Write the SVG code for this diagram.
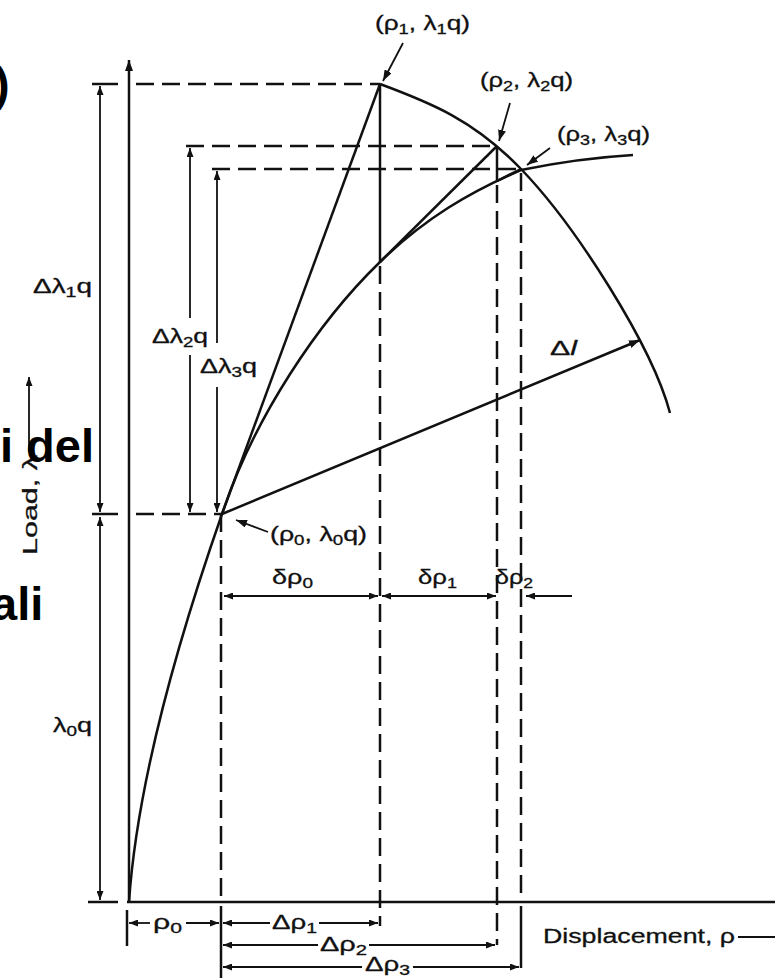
<svg xmlns="http://www.w3.org/2000/svg" width="775" height="978" viewBox="0 0 775 978">
<defs>
<marker id="ah" markerUnits="userSpaceOnUse" markerWidth="9" markerHeight="7" refX="9" refY="3.5" orient="auto-start-reverse"><path d="M0,0 L9,3.5 L0,7 z" fill="#111"/></marker>
<marker id="ptr" markerUnits="userSpaceOnUse" markerWidth="11" markerHeight="8" refX="11" refY="4" orient="auto"><path d="M0,0 L11,4 L0,8 z" fill="#111"/></marker>
</defs>
<style>
.ln{stroke:#111;stroke-width:2.5;fill:none}
.dash{stroke:#111;stroke-width:2.5;stroke-dasharray:18 8;fill:none}
.dim{stroke:#111;stroke-width:1.8;fill:none}
.t{font-family:"Liberation Sans",Arial,sans-serif;font-size:20px;fill:#111;stroke:#111;stroke-width:0.3}
.sub{font-size:14px}
.big{font-family:"Liberation Sans",Arial,sans-serif;font-size:47px;font-weight:bold;fill:#000}
</style>
<rect width="775" height="978" fill="#fff"/>
<g id="axes">
<line class="ln" x1="129" y1="902" x2="129" y2="60" marker-end="url(#ptr)"/>
<line class="ln" x1="127" y1="902" x2="775" y2="902"/>
</g>
<g id="curve">
<path class="ln" d="M129,902 C138,770 185,620 222,514 C254,418 318,322 380,262 C425,218 470,192 521,170 C560,162 600,157 633,155"/>
</g>
<g id="arc">
<path class="ln" d="M380,84 C430,102.5 474,120 521,169 C575,225 652,345 670,413"/>
</g>
<g id="connectors">
<line class="ln" x1="222" y1="514" x2="380" y2="84"/>
<line class="ln" x1="380" y1="84" x2="380" y2="262"/>
<line class="ln" x1="380" y1="262" x2="497" y2="146"/>
<line class="ln" x1="497" y1="146" x2="497" y2="181"/>
<line class="ln" x1="497" y1="181" x2="521" y2="169"/>
<line class="ln" x1="222" y1="514" x2="640" y2="340" marker-end="url(#ptr)"/>
<line class="dash" x1="136" y1="84" x2="380" y2="84"/>
<line class="dash" x1="186" y1="146" x2="497" y2="146"/>
<line class="dash" x1="212" y1="169" x2="521" y2="169"/>
<line class="dash" x1="136" y1="514" x2="222" y2="514"/>
<line class="dash" x1="221" y1="514" x2="221" y2="902"/>
<line class="ln" x1="221" y1="906" x2="221" y2="978"/>
<line class="dash" x1="380" y1="266" x2="380" y2="926"/>
<line class="dash" x1="497" y1="185" x2="497" y2="945"/>
<line class="dash" x1="521" y1="173" x2="521" y2="902"/>
<line class="ln" x1="521" y1="906" x2="521" y2="968"/>
<line class="ln" x1="127" y1="910" x2="127" y2="946"/>
<line class="ln" x1="92" y1="84" x2="118" y2="84"/>
<line class="ln" x1="92" y1="514" x2="118" y2="514"/>
<line class="ln" x1="88" y1="902" x2="118" y2="902"/>
<line class="dim" x1="100" y1="86" x2="100" y2="512" marker-start="url(#ah)" marker-end="url(#ah)"/>
<line class="dim" x1="100" y1="517" x2="100" y2="900" marker-start="url(#ah)" marker-end="url(#ah)"/>
<line class="dim" x1="190" y1="148" x2="190" y2="318" marker-start="url(#ah)"/>
<line class="dim" x1="190" y1="355" x2="190" y2="512" marker-end="url(#ah)"/>
<line class="dim" x1="217" y1="171" x2="217" y2="343" marker-start="url(#ah)"/>
<line class="dim" x1="217" y1="387" x2="217" y2="512" marker-end="url(#ah)"/>
<line class="dim" x1="29" y1="452" x2="29" y2="377" marker-end="url(#ah)"/>
<line class="dim" x1="224" y1="596" x2="378" y2="596" marker-start="url(#ah)" marker-end="url(#ah)"/>
<line class="dim" x1="382" y1="596" x2="496" y2="596" marker-start="url(#ah)" marker-end="url(#ah)"/>
<line class="dim" x1="572" y1="596" x2="526" y2="596" marker-end="url(#ah)"/>
<line class="dim" x1="129" y1="923" x2="150" y2="923" marker-start="url(#ah)"/>
<line class="dim" x1="186" y1="923" x2="219" y2="923" marker-end="url(#ah)"/>
<line class="dim" x1="223" y1="923" x2="270" y2="923" marker-start="url(#ah)"/>
<line class="dim" x1="319" y1="923" x2="378" y2="923" marker-end="url(#ah)"/>
<line class="dim" x1="223" y1="945" x2="318" y2="945" marker-start="url(#ah)"/>
<line class="dim" x1="369" y1="945" x2="495" y2="945" marker-end="url(#ah)"/>
<line class="dim" x1="223" y1="967" x2="362" y2="967" marker-start="url(#ah)"/>
<line class="dim" x1="413" y1="967" x2="519" y2="967" marker-end="url(#ah)"/>
<line class="dim" x1="738" y1="937" x2="775" y2="937"/>
<line class="dim" x1="403" y1="43" x2="383" y2="81" marker-end="url(#ptr)"/>
<line class="dim" x1="510" y1="103" x2="499" y2="141" marker-end="url(#ptr)"/>
<line class="dim" x1="550" y1="148" x2="527" y2="165" marker-end="url(#ptr)"/>
<line class="dim" x1="268" y1="532" x2="236" y2="520" marker-end="url(#ptr)"/>
</g>
<g id="labels">
<text class="t" x="375" y="30" textLength="95" lengthAdjust="spacingAndGlyphs">(ρ<tspan class="sub" dy="4">1</tspan><tspan dy="-4">, λ</tspan><tspan class="sub" dy="4">1</tspan><tspan dy="-4">q)</tspan></text>
<text class="t" x="480" y="87" textLength="93" lengthAdjust="spacingAndGlyphs">(ρ<tspan class="sub" dy="4">2</tspan><tspan dy="-4">, λ</tspan><tspan class="sub" dy="4">2</tspan><tspan dy="-4">q)</tspan></text>
<text class="t" x="557" y="141" textLength="93" lengthAdjust="spacingAndGlyphs">(ρ<tspan class="sub" dy="4">3</tspan><tspan dy="-4">, λ</tspan><tspan class="sub" dy="4">3</tspan><tspan dy="-4">q)</tspan></text>
<text class="t" x="270" y="541" textLength="97" lengthAdjust="spacingAndGlyphs">(ρ<tspan class="sub" dy="4">0</tspan><tspan dy="-4">, λ</tspan><tspan class="sub" dy="4">0</tspan><tspan dy="-4">q)</tspan></text>
<text class="t" x="33" y="293" textLength="59" lengthAdjust="spacingAndGlyphs">Δλ<tspan class="sub" dy="4">1</tspan><tspan dy="-4">q</tspan></text>
<text class="t" x="152" y="343" textLength="56" lengthAdjust="spacingAndGlyphs">Δλ<tspan class="sub" dy="4">2</tspan><tspan dy="-4">q</tspan></text>
<text class="t" x="200" y="373" textLength="57" lengthAdjust="spacingAndGlyphs">Δλ<tspan class="sub" dy="4">3</tspan><tspan dy="-4">q</tspan></text>
<text class="t" x="53" y="732" textLength="39" lengthAdjust="spacingAndGlyphs">λ<tspan class="sub" dy="4">0</tspan><tspan dy="-4">q</tspan></text>
<text class="t" x="272" y="584" textLength="41" lengthAdjust="spacingAndGlyphs">δρ<tspan class="sub" dy="4">0</tspan></text>
<text class="t" x="418" y="584" textLength="39" lengthAdjust="spacingAndGlyphs">δρ<tspan class="sub" dy="4">1</tspan></text>
<text class="t" x="495" y="584" textLength="38" lengthAdjust="spacingAndGlyphs">δρ<tspan class="sub" dy="4">2</tspan></text>
<text class="t" x="550" y="355" textLength="27" lengthAdjust="spacingAndGlyphs">Δ<tspan font-style="italic">l</tspan></text>
<text class="t" x="153" y="929" textLength="29" lengthAdjust="spacingAndGlyphs">ρ<tspan class="sub" dy="4">0</tspan></text>
<text class="t" x="272" y="929" textLength="45" lengthAdjust="spacingAndGlyphs">Δρ<tspan class="sub" dy="4">1</tspan></text>
<text class="t" x="320" y="951" textLength="47" lengthAdjust="spacingAndGlyphs">Δρ<tspan class="sub" dy="4">2</tspan></text>
<text class="t" x="365" y="971" textLength="45" lengthAdjust="spacingAndGlyphs">Δρ<tspan class="sub" dy="4">3</tspan></text>
<text class="t" x="543" y="943" font-size="20" textLength="192" lengthAdjust="spacingAndGlyphs">Displacement, ρ</text>
<text class="t" transform="translate(37,555) rotate(-90)" font-size="19" textLength="100" lengthAdjust="spacingAndGlyphs">Load, λ</text>
</g>
<g id="overlay">
<text class="big" x="-6" y="100">)</text>
<text class="big" x="0" y="462">i del</text>
<text class="big" x="-9" y="620">ali</text>
</g>
</svg>
